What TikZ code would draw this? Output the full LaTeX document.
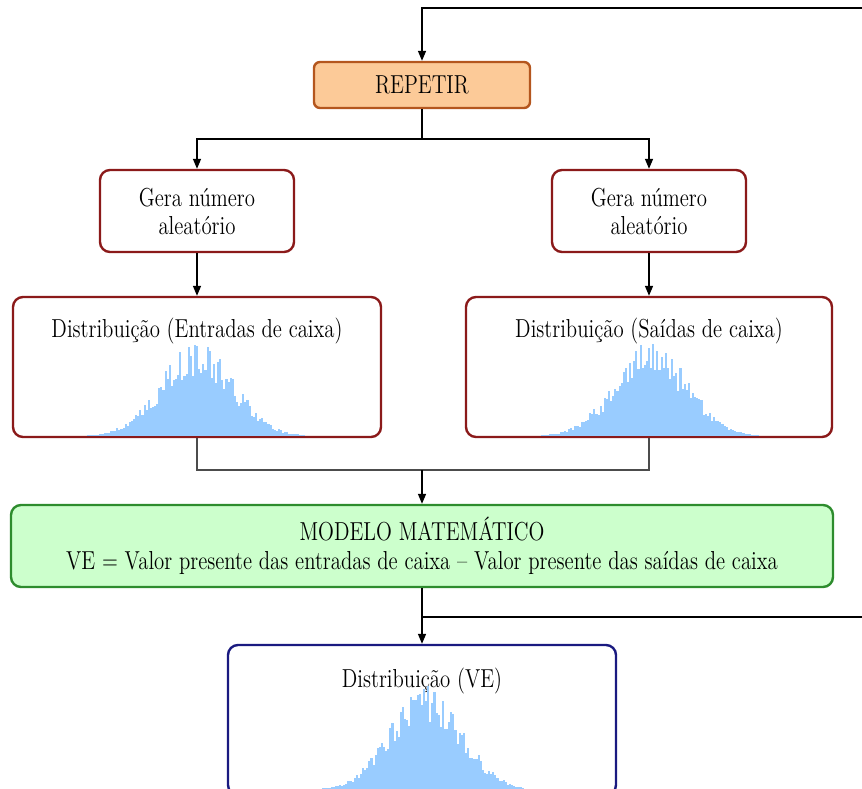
\documentclass[tikz,border=0pt]{standalone}
\usetikzlibrary{arrows.meta}
\usetikzlibrary{positioning}
\definecolor{laranja}{HTML}{FCCA98}
\definecolor{laranjaborda}{HTML}{B4561E}
\definecolor{vermelho}{HTML}{8B1A1A}
\definecolor{verde}{HTML}{CCFFCC}
\definecolor{verdeborda}{HTML}{2D8C2D}
\definecolor{azul}{HTML}{1A1A80}
\definecolor{barra}{HTML}{99CCFF}

% texto estreito
\newcommand{\estreito}[1]{\scalebox{0.8}[1]{#1}}
% histograma: centro x, base y, altura do pico
\newcommand{\histograma}[3]{%
  \foreach \i in {-52,...,51}{
    \pgfmathsetmacro{\h}{#3*exp(-((\i/17)^2)/2)*(0.68+0.42*rnd)}
    \fill[barra] ({#1+\i*2.1},#2) rectangle ({#1+\i*2.1+2.1},{#2-\h});
  }}

\begin{document}
\begin{tikzpicture}[x=0.5pt,y=-0.5pt,
font=\fontsize{13}{15}\selectfont,
caixa/.style={rectangle, rounded corners=5pt, line width=1.2pt, align=center, inner sep=0pt},
repetirnode/.style={caixa, draw=laranjaborda, fill=laranja, rounded corners=3pt, minimum width=108pt, minimum height=23pt},
geranode/.style={caixa, draw=vermelho, fill=white, minimum width=97pt, minimum height=41pt},
distnode/.style={caixa, draw=vermelho, fill=white, minimum height=70pt},
modelonode/.style={caixa, draw=verdeborda, fill=verde, minimum width=411pt, minimum height=41pt},
venode/.style={caixa, draw=azul, fill=white, minimum width=194pt, minimum height=75pt},
titulo/.style={anchor=north, yshift=-11pt, inner sep=0pt},
seta/.style={-{Triangle[length=5pt,width=4pt]}, line width=0.75pt},
linha/.style={line width=0.75pt},
]
\useasboundingbox (0,0) rectangle (862,788);
\pgfmathsetseed{17}

%Nodes
\node[repetirnode]  (repetir) at (422,85)  {\estreito{REPETIR}};
\node[geranode]     (gera1)   at (197,211) {\estreito{Gera número}\\[-1pt]\estreito{aleatório}};
\node[geranode]     (gera2)   at (649,211) {\estreito{Gera número}\\[-1pt]\estreito{aleatório}};
\node[distnode, minimum width=184pt] (dist1) at (197,367)
  [label={[titulo]north:\estreito{Distribuição (Entradas de caixa)}}] {};
\node[distnode, minimum width=183pt] (dist2) at (649,367)
  [label={[titulo]north:\estreito{Distribuição (Saídas de caixa)}}] {};
\node[modelonode]   (modelo)  at (422,546) {\estreito{MODELO MATEMÁTICO}\\[-0.5pt]\estreito{VE = Valor presente das entradas de caixa -- Valor presente das saídas de caixa}};
\node[venode]       (ve)      at (422,720)
  [label={[titulo, yshift=-1pt]north:\estreito{Distribuição (VE)}}] {};

%Histogramas
\histograma{196}{436}{88}
\histograma{650}{436}{88}
\histograma{425}{790}{96}

%Lines
\coordinate (topo) at (862,8);
\coordinate (junta) at (422,470);
\coordinate (retorno) at (862,617);
\draw[seta] (topo) -| (repetir.north);
\draw[seta] (repetir.south) -- ++(0,30) -| (gera1.north);
\draw[seta] (repetir.south) -- ++(0,30) -| (gera2.north);
\draw[seta] (gera1.south) -- (dist1.north);
\draw[seta] (gera2.south) -- (dist2.north);
\draw[linha, black!70] (dist1.south) |- (junta) -| (dist2.south);
\draw[seta] (junta) -- (modelo.north);
\draw[seta] (modelo.south) -- (ve.north);
\draw[linha] (retorno) -- (modelo.south |- retorno);

\end{tikzpicture}
\end{document}
